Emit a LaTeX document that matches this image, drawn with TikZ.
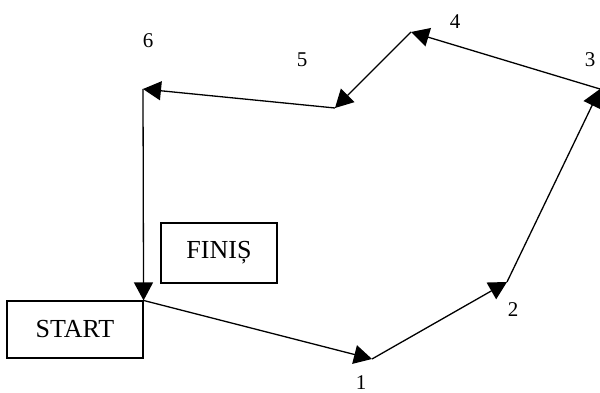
\documentclass[tikz,border=0pt]{standalone}
\usepackage{fontspec}
\setmainfont{Liberation Serif}
\usetikzlibrary{arrows.meta}
\begin{document}
\begin{tikzpicture}[x=1pt,y=-1pt,
  conn/.style={line width=1.3pt,-{Triangle[length=18pt,width=19pt]}},
  boxnode/.style={draw,line width=1.1pt,inner sep=0pt,font=\fontsize{26}{30}\selectfont},
  num/.style={inner sep=0pt,font=\fontsize{21}{24}\selectfont}]
\useasboundingbox (0,0) rectangle (600,393);
\node[boxnode,minimum width=136pt,minimum height=57pt] (start) at (75,329.5) {START};
\node[boxnode,minimum width=116pt,minimum height=60pt] (finis) at (219,253) {FINIȘ};
\coordinate (p1) at (372,359);
\coordinate (p2) at (507,282);
\coordinate (p3) at (600,89);
\coordinate (p4) at (411,32);
\coordinate (p5) at (335,108);
\coordinate (p6) at (143,89);
\node[num] (l1) at (361,383) {1};
\node[num] (l2) at (513,310) {2};
\node[num] (l3) at (590,60) {3};
\node[num] (l4) at (455,22) {4};
\node[num] (l5) at (302,60) {5};
\node[num] (l6) at (148,41) {6};
\draw[conn] (start.north east) -- (p1);
\draw[conn] (p1) -- (p2);
\draw[conn] (p2) -- (p3);
\draw[conn] (p3) -- (p4);
\draw[conn] (p4) -- (p5);
\draw[conn] (p5) -- (p6);
\draw[conn] (p6) -- (start.north east);
\end{tikzpicture}
\end{document}
